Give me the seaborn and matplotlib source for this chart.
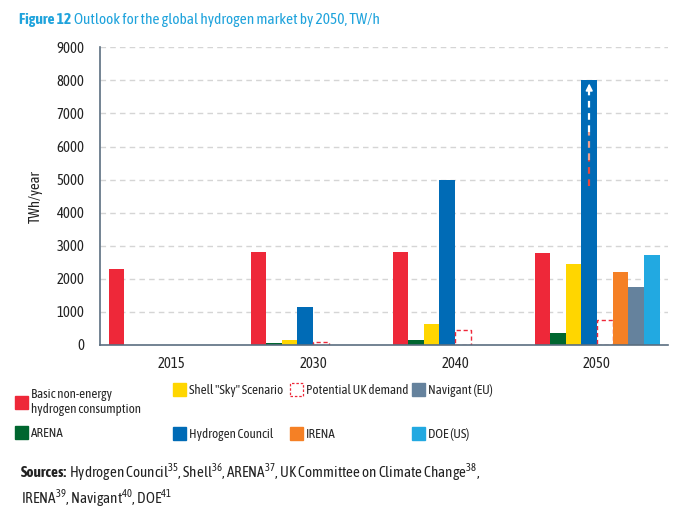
import numpy as np
import pandas as pd
import matplotlib
matplotlib.use("Agg")
import matplotlib.pyplot as plt
import seaborn as sns
from matplotlib.patches import Patch
from matplotlib import font_manager

years = ["2015", "2030", "2040", "2050"]
series = ["Basic non-energy\nhydrogen consumption", "ARENA", "Shell \"Sky\" Scenario",
          "Hydrogen Council", "Potential UK demand", "IRENA", "Navigant (EU)", "DOE (US)"]
basic = [2290, 2820, 2820, 2790]
arena = [np.nan, 50, 150, 350]
shell = [np.nan, 150, 640, 2450]
hcouncil = [np.nan, 1140, 5000, 8000]
uk = [np.nan, 80, 440, 750]
irena = [np.nan, np.nan, np.nan, 2200]
navigant = [np.nan, np.nan, np.nan, 1750]
doe = [np.nan, np.nan, np.nan, 2720]
colors = ["#EE2839", "#00662F", "#FFD600", "#006BB6", "#FFFFFF", "#F58025", "#65829D", "#22A9E1"]
yticks = list(range(0, 9001, 1000))

rows = []
for s, vals in zip(series, [basic, arena, shell, hcouncil, uk, irena, navigant, doe]):
    for y, v in zip(years, vals):
        if not np.isnan(v):
            rows.append({"year": y, "series": s, "value": v})
df = pd.DataFrame(rows)

sns.set_style("white")
names = {f.name for f in font_manager.fontManager.ttflist}
font = "Asap Condensed" if "Asap Condensed" in names else "Lato"
plt.rcParams["font.family"] = [font, "DejaVu Sans"]
plt.rcParams["mathtext.fontset"] = "custom"
plt.rcParams["mathtext.rm"] = font
plt.rcParams["mathtext.bf"] = font + ":bold"

fig = plt.figure(figsize=(6.86, 5.16), dpi=100)
ax = fig.add_axes([0.1458, 0.3314, 0.8280, 0.5770])

axis_col = "#5B6E80"
sns.barplot(data=df, x="year", y="value", hue="series", order=years, hue_order=series,
            palette=dict(zip(series, colors)), width=0.88, ax=ax, legend=False,
            linewidth=0, saturation=1)

red = colors[0]
uk_idx = series.index("Potential UK demand")
for p in ax.containers[uk_idx]:
    p.set_facecolor("white")
    p.set_edgecolor(red)
    p.set_linestyle((0, (3, 2)))
    p.set_linewidth(1.0)

# arrow on the 2050 Hydrogen Council bar
hc_idx = series.index("Hydrogen Council")
bar = max(ax.containers[hc_idx], key=lambda p: p.get_height())
xc = bar.get_x() + bar.get_width() / 2
ax.plot([xc, xc], [4800, 5600], color="#E8473F", ls=(0, (3, 2.5)), lw=1.6, zorder=5)
ax.plot([xc, xc], [5600, 6450], color="#F0A090", ls=(0, (3, 2.5)), lw=1.6, zorder=5)
ax.plot([xc, xc], [6450, 7750], color="white", ls=(0, (3, 2.5)), lw=1.6, zorder=5)
ax.annotate("", xy=(xc, 7990), xytext=(xc, 7700),
            arrowprops=dict(arrowstyle="-|>", color="white", lw=1.2, mutation_scale=10), zorder=6)

ax.set_ylim(0, 9000)
ax.set_xlim(-0.5, 3.5)
ax.set_yticks(yticks)
ax.set_yticklabels([str(t) for t in yticks], fontsize=10.5, color="#222222")
ax.set_xticks(range(4))
ax.set_xticklabels(years, fontsize=10.5, color="#222222")
ax.set_xticks(np.arange(-0.5, 3.6, 1), minor=True)
ax.tick_params(axis="x", which="major", length=0, pad=9)
ax.tick_params(axis="x", which="minor", length=5, color=axis_col, width=1, direction="out")
ax.tick_params(axis="y", which="major", length=5, color=axis_col, width=1, direction="out", pad=6)
ax.set_xlabel("")
ax.set_ylabel("TWh/year", fontsize=10.5, color="#222222", labelpad=10)
for side in ["top", "right"]:
    ax.spines[side].set_visible(False)
for side in ["left", "bottom"]:
    ax.spines[side].set_color(axis_col)
    ax.spines[side].set_linewidth(1.2)
ax.yaxis.grid(True, color="#D5D5D5", ls=(0, (4, 3)), lw=1)
ax.set_axisbelow(True)
ax.get_ygridlines()[0].set_visible(False)

renderer = fig.canvas.get_renderer()

def run(x, y, parts, size, color):
    for txt, w in parts:
        t = fig.text(x, y, txt, fontsize=size, color=color, fontweight=w, va="center", ha="left")
        bb = t.get_window_extent(renderer)
        x += bb.width / fig.bbox.width

# title
run(0.028, 0.962, [("Figure 12 ", "bold"), ("Outlook for the global hydrogen market by 2050, TW/h", "normal")],
    11.1, "#1FA3DC")

# legend: one small legend per column
handles = []
for s, c in zip(series, colors):
    if s == "Potential UK demand":
        handles.append(Patch(facecolor="white", edgecolor=red, linestyle=(0, (2, 1.5)), lw=0.9))
    else:
        handles.append(Patch(facecolor=c, edgecolor=c))
col_x = [0.022, 0.252, 0.4227, 0.6006]
col_top = [0.248, 0.257, 0.257, 0.257]
col_ls = [0.75, 2.3, 2.3, 2.3]
for i in range(4):
    fig.legend(handles[2 * i:2 * i + 2], series[2 * i:2 * i + 2], loc="upper left",
               bbox_to_anchor=(col_x[i], col_top[i]), frameon=False, fontsize=9.4,
               handlelength=1.0, handleheight=1.15, handletextpad=0.25,
               labelspacing=col_ls[i], borderaxespad=0, borderpad=0)

run(0.030, 0.084, [("Sources:", "bold"),
                   (" Hydrogen Council$^{35}$, Shell$^{36}$, ARENA$^{37}$, UK Committee on Climate Change$^{38}$,", "normal")],
    10.9, "#222222")
run(0.030, 0.034, [("IRENA$^{39}$, Navigant$^{40}$, DOE$^{41}$", "normal")], 10.9, "#222222")

fig.savefig("out.png", dpi=100)
